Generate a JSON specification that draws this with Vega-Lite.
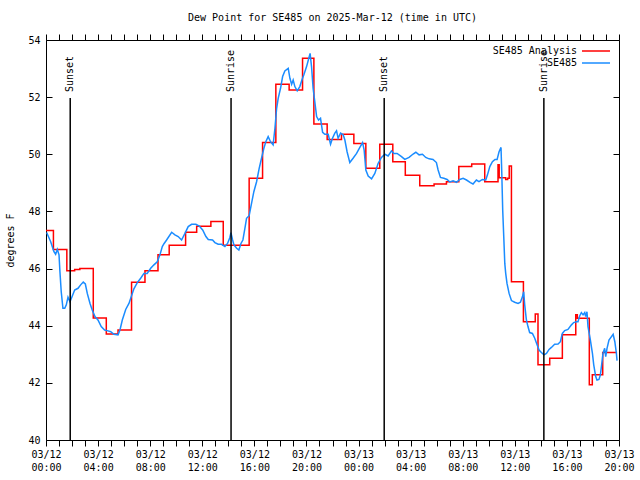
{
  "$schema": "https://vega.github.io/schema/vega-lite/v6.json",
  "width": 573,
  "height": 400,
  "autosize": {"type": "none"},
  "padding": {"left": 46, "top": 40, "right": 21, "bottom": 40},
  "background": "white",
  "config": {
    "font": "DejaVu Sans Mono",
    "view": {"stroke": "black", "strokeWidth": 1},
    "axis": {"domain": false, "grid": false, "labelFont": "DejaVu Sans Mono", "labelFontSize": 10, "labelColor": "black", "tickColor": "black", "tickWidth": 1, "titleFont": "DejaVu Sans Mono", "titleFontSize": 10, "titleFontWeight": "normal", "titleColor": "black"},
    "legend": {"orient": "top-right", "offset": 6, "padding": 0, "symbolType": "M-14,0H14", "symbolSize": 4, "symbolStrokeWidth": 1.5, "labelAlign": "right", "labelOffset": -24, "labelFont": "DejaVu Sans Mono", "labelFontSize": 10, "labelColor": "black", "rowPadding": 2}
  },
  "title": {"text": "Dew Point for SE485 on 2025-Mar-12 (time in UTC)", "font": "DejaVu Sans Mono", "fontSize": 10, "fontWeight": "normal", "color": "black", "anchor": "middle", "frame": "group", "offset": 11},
  "datasets": {
    "sun": [
      {"t": 1.86, "event": "Sunset"},
      {"t": 14.21, "event": "Sunrise"},
      {"t": 25.97, "event": "Sunset"},
      {"t": 38.23, "event": "Sunrise"}
    ],
    "analysis": [
      {"t": 0, "v": 47.33}, {"t": 0.57, "v": 46.67}, {"t": 1.6, "v": 45.92}, {"t": 2.2, "v": 45.97}, {"t": 2.6, "v": 46.0},
      {"t": 3.63, "v": 44.27}, {"t": 4.63, "v": 43.71}, {"t": 5.53, "v": 43.85}, {"t": 6.57, "v": 45.52}, {"t": 7.6, "v": 45.92},
      {"t": 8.6, "v": 46.48}, {"t": 9.46, "v": 46.82}, {"t": 10.72, "v": 47.27}, {"t": 11.57, "v": 47.48}, {"t": 12.66, "v": 47.65},
      {"t": 13.61, "v": 46.82}, {"t": 15.6, "v": 49.16}, {"t": 16.63, "v": 50.41}, {"t": 17.65, "v": 52.45}, {"t": 18.67, "v": 52.25},
      {"t": 19.7, "v": 53.36}, {"t": 20.57, "v": 51.06}, {"t": 21.59, "v": 50.52}, {"t": 22.69, "v": 50.7}, {"t": 23.64, "v": 50.38},
      {"t": 24.56, "v": 49.51}, {"t": 25.63, "v": 50.35}, {"t": 26.63, "v": 49.74}, {"t": 27.59, "v": 49.27}, {"t": 28.7, "v": 48.9},
      {"t": 29.8, "v": 48.96}, {"t": 30.75, "v": 49.04}, {"t": 31.7, "v": 49.57}, {"t": 32.69, "v": 49.66}, {"t": 33.69, "v": 49.04},
      {"t": 34.71, "v": 49.63}, {"t": 34.8, "v": 49.18}, {"t": 35.3, "v": 49.12}, {"t": 35.45, "v": 49.16}, {"t": 35.57, "v": 49.59},
      {"t": 35.74, "v": 45.54}, {"t": 36.66, "v": 44.14}, {"t": 37.57, "v": 44.41}, {"t": 37.78, "v": 42.63}, {"t": 38.68, "v": 42.86},
      {"t": 39.65, "v": 43.68}, {"t": 40.68, "v": 44.38}, {"t": 40.8, "v": 44.26}, {"t": 41.72, "v": 41.93}, {"t": 41.95, "v": 42.28},
      {"t": 42.75, "v": 43.06}, {"t": 43.85, "v": 43.06}
    ],
    "obs": [
      {"t": 0.05, "v": 47.26}, {"t": 0.36, "v": 46.94}, {"t": 0.61, "v": 46.59}, {"t": 0.74, "v": 46.5}, {"t": 0.87, "v": 46.67},
      {"t": 1.0, "v": 46.48}, {"t": 1.07, "v": 45.89}, {"t": 1.17, "v": 45.19}, {"t": 1.3, "v": 44.61}, {"t": 1.44, "v": 44.61},
      {"t": 1.56, "v": 44.73}, {"t": 1.69, "v": 45.0}, {"t": 1.84, "v": 44.84}, {"t": 2.02, "v": 45.04}, {"t": 2.2, "v": 45.25},
      {"t": 2.46, "v": 45.31}, {"t": 2.66, "v": 45.43}, {"t": 2.86, "v": 45.53}, {"t": 3.02, "v": 45.46}, {"t": 3.17, "v": 45.13},
      {"t": 3.38, "v": 44.78}, {"t": 3.55, "v": 44.55}, {"t": 3.76, "v": 44.32}, {"t": 3.99, "v": 44.2}, {"t": 4.24, "v": 43.97},
      {"t": 4.5, "v": 43.85}, {"t": 4.76, "v": 43.82}, {"t": 4.97, "v": 43.79}, {"t": 5.22, "v": 43.7}, {"t": 5.53, "v": 43.68},
      {"t": 5.68, "v": 43.85}, {"t": 5.86, "v": 44.2}, {"t": 6.12, "v": 44.57}, {"t": 6.37, "v": 44.78}, {"t": 6.55, "v": 45.02},
      {"t": 6.75, "v": 45.29}, {"t": 7.01, "v": 45.51}, {"t": 7.27, "v": 45.66}, {"t": 7.52, "v": 45.83}, {"t": 7.77, "v": 45.83},
      {"t": 8.04, "v": 46.01}, {"t": 8.29, "v": 46.13}, {"t": 8.54, "v": 46.24}, {"t": 8.75, "v": 46.48}, {"t": 8.93, "v": 46.77},
      {"t": 9.06, "v": 46.87}, {"t": 9.26, "v": 47.0}, {"t": 9.65, "v": 47.27}, {"t": 9.9, "v": 47.18}, {"t": 10.15, "v": 47.12},
      {"t": 10.41, "v": 47.0}, {"t": 10.67, "v": 47.23}, {"t": 10.92, "v": 47.47}, {"t": 11.18, "v": 47.55}, {"t": 11.51, "v": 47.55},
      {"t": 11.77, "v": 47.49}, {"t": 12.03, "v": 47.35}, {"t": 12.28, "v": 47.12}, {"t": 12.46, "v": 47.02}, {"t": 12.79, "v": 47.0},
      {"t": 12.97, "v": 46.91}, {"t": 13.22, "v": 46.85}, {"t": 13.48, "v": 46.85}, {"t": 13.74, "v": 46.77}, {"t": 13.94, "v": 46.88},
      {"t": 14.12, "v": 47.09}, {"t": 14.2, "v": 47.26}, {"t": 14.33, "v": 47.0}, {"t": 14.43, "v": 46.83}, {"t": 14.64, "v": 46.71},
      {"t": 14.81, "v": 46.65}, {"t": 14.97, "v": 46.88}, {"t": 15.12, "v": 47.0}, {"t": 15.27, "v": 47.4}, {"t": 15.4, "v": 47.76},
      {"t": 15.6, "v": 47.85}, {"t": 15.79, "v": 48.3}, {"t": 15.96, "v": 48.69}, {"t": 16.17, "v": 49.04}, {"t": 16.37, "v": 49.51},
      {"t": 16.55, "v": 49.86}, {"t": 16.73, "v": 50.21}, {"t": 16.88, "v": 50.44}, {"t": 17.06, "v": 50.62}, {"t": 17.24, "v": 50.44},
      {"t": 17.44, "v": 50.33}, {"t": 17.58, "v": 50.91}, {"t": 17.71, "v": 51.61}, {"t": 17.83, "v": 51.96}, {"t": 18.01, "v": 52.31},
      {"t": 18.17, "v": 52.72}, {"t": 18.34, "v": 52.92}, {"t": 18.6, "v": 53.01}, {"t": 18.73, "v": 52.66}, {"t": 18.86, "v": 52.45},
      {"t": 18.98, "v": 52.6}, {"t": 19.11, "v": 52.37}, {"t": 19.29, "v": 52.22}, {"t": 19.49, "v": 52.37}, {"t": 19.65, "v": 52.6},
      {"t": 19.8, "v": 52.78}, {"t": 20.01, "v": 53.07}, {"t": 20.18, "v": 53.36}, {"t": 20.28, "v": 53.53}, {"t": 20.39, "v": 53.07},
      {"t": 20.51, "v": 52.31}, {"t": 20.64, "v": 51.84}, {"t": 20.78, "v": 51.32}, {"t": 20.93, "v": 51.2}, {"t": 21.08, "v": 51.26},
      {"t": 21.24, "v": 50.77}, {"t": 21.41, "v": 50.7}, {"t": 21.67, "v": 50.7}, {"t": 21.85, "v": 50.35}, {"t": 22.0, "v": 50.56},
      {"t": 22.18, "v": 50.74}, {"t": 22.31, "v": 50.82}, {"t": 22.43, "v": 50.56}, {"t": 22.62, "v": 50.74}, {"t": 22.82, "v": 50.68},
      {"t": 22.95, "v": 50.5}, {"t": 23.12, "v": 50.09}, {"t": 23.33, "v": 49.71}, {"t": 23.58, "v": 49.86}, {"t": 23.85, "v": 50.03},
      {"t": 24.1, "v": 50.24}, {"t": 24.31, "v": 50.41}, {"t": 24.43, "v": 50.15}, {"t": 24.56, "v": 49.45}, {"t": 24.74, "v": 49.24},
      {"t": 25.0, "v": 49.14}, {"t": 25.25, "v": 49.33}, {"t": 25.5, "v": 49.68}, {"t": 25.76, "v": 49.89}, {"t": 26.02, "v": 50.0},
      {"t": 26.27, "v": 49.94}, {"t": 26.53, "v": 50.12}, {"t": 26.71, "v": 50.03}, {"t": 26.96, "v": 50.03}, {"t": 27.3, "v": 49.92},
      {"t": 27.55, "v": 49.82}, {"t": 27.88, "v": 49.89}, {"t": 28.19, "v": 50.01}, {"t": 28.4, "v": 50.07}, {"t": 28.65, "v": 49.98},
      {"t": 28.91, "v": 50.0}, {"t": 29.16, "v": 49.89}, {"t": 29.42, "v": 49.84}, {"t": 29.72, "v": 49.82}, {"t": 29.98, "v": 49.71},
      {"t": 30.11, "v": 49.45}, {"t": 30.29, "v": 49.19}, {"t": 30.55, "v": 49.16}, {"t": 30.8, "v": 49.12}, {"t": 31.01, "v": 49.03},
      {"t": 31.26, "v": 49.07}, {"t": 31.52, "v": 49.02}, {"t": 31.77, "v": 49.12}, {"t": 32.03, "v": 49.16}, {"t": 32.29, "v": 49.1},
      {"t": 32.59, "v": 49.01}, {"t": 32.79, "v": 48.96}, {"t": 33.05, "v": 49.1}, {"t": 33.25, "v": 49.04}, {"t": 33.51, "v": 49.12},
      {"t": 33.77, "v": 49.1}, {"t": 33.9, "v": 49.28}, {"t": 34.08, "v": 49.57}, {"t": 34.28, "v": 49.74}, {"t": 34.48, "v": 49.82},
      {"t": 34.64, "v": 49.82}, {"t": 34.79, "v": 50.09}, {"t": 34.94, "v": 50.24}, {"t": 35.0, "v": 49.33}, {"t": 35.07, "v": 48.05},
      {"t": 35.15, "v": 47.12}, {"t": 35.23, "v": 46.18}, {"t": 35.3, "v": 45.83}, {"t": 35.4, "v": 45.48}, {"t": 35.56, "v": 45.13},
      {"t": 35.74, "v": 44.88}, {"t": 35.99, "v": 44.82}, {"t": 36.25, "v": 44.78}, {"t": 36.43, "v": 44.82}, {"t": 36.59, "v": 45.02},
      {"t": 36.68, "v": 45.19}, {"t": 36.76, "v": 44.73}, {"t": 36.89, "v": 44.2}, {"t": 37.01, "v": 43.97}, {"t": 37.14, "v": 43.76},
      {"t": 37.35, "v": 43.73}, {"t": 37.53, "v": 43.56}, {"t": 37.71, "v": 43.33}, {"t": 37.86, "v": 43.15}, {"t": 38.04, "v": 43.06},
      {"t": 38.24, "v": 42.98}, {"t": 38.43, "v": 43.03}, {"t": 38.63, "v": 43.17}, {"t": 38.81, "v": 43.24}, {"t": 39.06, "v": 43.35},
      {"t": 39.32, "v": 43.36}, {"t": 39.5, "v": 43.44}, {"t": 39.65, "v": 43.73}, {"t": 39.83, "v": 43.83}, {"t": 40.08, "v": 43.87},
      {"t": 40.35, "v": 44.03}, {"t": 40.52, "v": 44.11}, {"t": 40.73, "v": 44.14}, {"t": 40.85, "v": 44.14}, {"t": 40.98, "v": 44.34},
      {"t": 41.11, "v": 44.46}, {"t": 41.24, "v": 44.38}, {"t": 41.37, "v": 44.46}, {"t": 41.44, "v": 44.32}, {"t": 41.54, "v": 44.49},
      {"t": 41.62, "v": 43.97}, {"t": 41.8, "v": 43.5}, {"t": 41.96, "v": 43.03}, {"t": 42.06, "v": 42.63}, {"t": 42.21, "v": 42.22},
      {"t": 42.31, "v": 42.1}, {"t": 42.46, "v": 42.12}, {"t": 42.57, "v": 42.28}, {"t": 42.65, "v": 42.57}, {"t": 42.77, "v": 43.03},
      {"t": 42.9, "v": 43.21}, {"t": 42.98, "v": 42.92}, {"t": 43.08, "v": 43.21}, {"t": 43.23, "v": 43.5}, {"t": 43.42, "v": 43.62},
      {"t": 43.55, "v": 43.7}, {"t": 43.68, "v": 43.44}, {"t": 43.8, "v": 43.03}, {"t": 43.85, "v": 42.78}
    ]
  },
  "resolve": {"axis": {"x": "independent", "y": "independent"}},
  "layer": [
    {
      "data": {"name": "analysis"},
      "mark": {"type": "line", "interpolate": "step-after", "strokeWidth": 1.5},
      "encoding": {
        "x": {"field": "t", "type": "quantitative", "scale": {"domain": [0, 44], "nice": false, "zero": false},
          "axis": {"orient": "bottom", "title": null, "values": [0,1,2,3,4,5,6,7,8,9,10,11,12,13,14,15,16,17,18,19,20,21,22,23,24,25,26,27,28,29,30,31,32,33,34,35,36,37,38,39,40,41,42,43,44],
            "tickSize": 6, "labelPadding": 3, "labelBaseline": "top", "labelLineHeight": 13, "labelOverlap": false, "labelFlush": false, "labelBound": false,
            "labelExpr": "datum.value % 4 === 0 ? ['03/' + (12 + floor(datum.value / 24)), (datum.value % 24 < 10 ? '0' : '') + (datum.value % 24) + ':00'] : ''",
            "encode": {"ticks": {"update": {"y2": {"signal": "datum.value % 4 === 0 ? -6 : -3"}}}}}},
        "y": {"field": "v", "type": "quantitative", "scale": {"domain": [40, 54], "nice": false, "zero": false},
          "axis": {"orient": "left", "title": "degrees F", "values": [40,42,44,46,48,50,52,54], "tickSize": -6, "labelPadding": 12, "titlePadding": 12}},
        "color": {"datum": "SE485 Analysis", "type": "nominal", "scale": {"domain": ["SE485 Analysis", "SE485"], "range": ["#ff0000", "#1a8cff"]}, "legend": {"title": null}}
      }
    },
    {
      "data": {"name": "obs"},
      "mark": {"type": "line", "strokeWidth": 1.5},
      "encoding": {
        "x": {"field": "t", "type": "quantitative", "scale": {"domain": [0, 44], "nice": false, "zero": false},
          "axis": {"orient": "top", "title": null, "labels": false, "values": [0,1,2,3,4,5,6,7,8,9,10,11,12,13,14,15,16,17,18,19,20,21,22,23,24,25,26,27,28,29,30,31,32,33,34,35,36,37,38,39,40,41,42,43,44],
            "tickSize": 6, "encode": {"ticks": {"update": {"y2": {"signal": "datum.value % 4 === 0 ? 6 : 3"}}}}}},
        "y": {"field": "v", "type": "quantitative", "scale": {"domain": [40, 54], "nice": false, "zero": false},
          "axis": {"orient": "right", "title": null, "labels": false, "values": [40,42,44,46,48,50,52,54], "tickSize": -6}},
        "color": {"datum": "SE485", "type": "nominal"}
      }
    },
    {
      "data": {"name": "sun"},
      "mark": {"type": "rule", "color": "black", "strokeWidth": 1.5},
      "encoding": {
        "x": {"field": "t", "type": "quantitative", "axis": null},
        "y": {"datum": 40, "type": "quantitative", "axis": null},
        "y2": {"datum": 51.97}
      }
    },
    {
      "data": {"name": "sun"},
      "mark": {"type": "text", "angle": 270, "align": "left", "baseline": "middle", "font": "DejaVu Sans Mono", "fontSize": 10, "color": "black"},
      "encoding": {
        "x": {"field": "t", "type": "quantitative", "axis": null},
        "y": {"datum": 52.18, "type": "quantitative", "axis": null},
        "text": {"field": "event"}
      }
    }
  ]
}
